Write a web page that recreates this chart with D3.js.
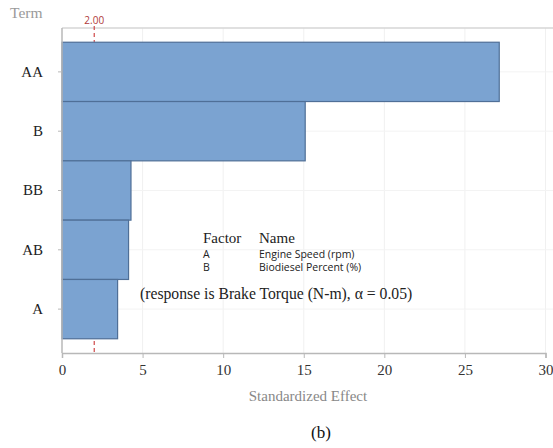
<!DOCTYPE html>
<html>
<head>
<meta charset="utf-8">
<script src="https://cdn.jsdelivr.net/npm/d3@7"></script>
<style>
  html, body { margin: 0; padding: 0; background: #fff; }
  svg { display: block; }
</style>
</head>
<body>
<svg id="chart" width="553" height="448"></svg>
<script>
// Pareto chart of standardized effects
const terms = ["AA", "B", "BB", "AB", "A"];
const effects = [27.13, 15.09, 4.28, 4.13, 3.45];
const xTicks = [0, 5, 10, 15, 20, 25, 30];
const refValue = 2.00;
const factorCodes = ["A", "B"];
const factorNames = ["Engine Speed (rpm)", "Biodiesel Percent (%)"];

(function draw() {
  const svg = d3.select("#chart");
  const plotL = 62, plotR = 545.5, plotT = 28, plotB = 353;
  const serif = "'Liberation Serif', 'Times New Roman', serif";
  const sans = "'Open Sans', 'DejaVu Sans', sans-serif";

  const x = d3.scaleLinear().domain([0, 30]).range([plotL, plotR]);
  const y = d3.scaleBand().domain(terms).range([plotT, plotB]).paddingInner(0).paddingOuter(0.24);

  // faint gridlines
  svg.append("g").selectAll("line").data(xTicks.slice(1)).join("line")
    .attr("x1", d => x(d)).attr("x2", d => x(d))
    .attr("y1", plotT).attr("y2", plotB)
    .attr("stroke", "#f0f0f0").attr("stroke-width", 1);
  svg.append("g").selectAll("line").data(terms).join("line")
    .attr("x1", plotL).attr("x2", 553)
    .attr("y1", d => y(d) + y.bandwidth() / 2).attr("y2", d => y(d) + y.bandwidth() / 2)
    .attr("stroke", "#f3f3f3").attr("stroke-width", 1);

  // top frame line
  svg.append("line").attr("x1", plotL).attr("x2", 553).attr("y1", plotT).attr("y2", plotT)
    .attr("stroke", "#d6d6d6").attr("stroke-width", 1.5);

  // reference line (sits behind the bars)
  svg.append("line")
    .attr("x1", x(refValue)).attr("x2", x(refValue))
    .attr("y1", plotT - 2).attr("y2", plotB)
    .attr("stroke", "#d04848").attr("stroke-width", 1.2)
    .attr("stroke-dasharray", "4,3");
  svg.append("text")
    .attr("x", x(refValue)).attr("y", plotT - 4)
    .attr("text-anchor", "middle")
    .attr("font-family", sans).attr("font-size", 10)
    .attr("fill", "#b03a3a")
    .text(refValue.toFixed(2));

  // bars
  svg.append("g").selectAll("rect").data(terms).join("rect")
    .attr("x", x(0))
    .attr("y", d => y(d))
    .attr("width", (d, i) => x(effects[i]) - x(0))
    .attr("height", y.bandwidth())
    .attr("fill", "#7ba3d1")
    .attr("stroke", "#4f6f97")
    .attr("stroke-width", 1.2);

  // x axis
  const xAxis = d3.axisBottom(x).tickValues(xTicks).tickSize(5).tickPadding(6);
  const gx = svg.append("g").attr("transform", `translate(0,${plotB})`).call(xAxis);
  gx.select(".domain").attr("stroke", "#b8b8b8").attr("stroke-width", 1.5);
  gx.selectAll(".tick line").attr("stroke", "#b8b8b8");
  gx.selectAll(".tick text").attr("font-family", serif).attr("font-size", 15).attr("fill", "#333");

  // y axis
  const yAxis = d3.axisLeft(y).tickSize(4).tickPadding(15);
  const gy = svg.append("g").attr("transform", `translate(${plotL},0)`).call(yAxis);
  gy.select(".domain").attr("stroke", "#b8b8b8").attr("stroke-width", 1.5)
    .attr("d", `M0,${plotT}V${plotB}`);
  gy.selectAll(".tick line").attr("stroke", "#b8b8b8");
  gy.selectAll(".tick text").attr("font-family", serif).attr("font-size", 15).attr("fill", "#222");

  // axis titles
  svg.append("text").attr("x", 10).attr("y", 18)
    .attr("font-family", serif).attr("font-size", 15.5).attr("fill", "#9a9a9a")
    .text("Term");
  svg.append("text").attr("x", 308).attr("y", 401)
    .attr("text-anchor", "middle")
    .attr("font-family", serif).attr("font-size", 15).attr("fill", "#888")
    .text("Standardized Effect");

  // factor key
  svg.append("text").attr("x", 203).attr("y", 243)
    .attr("font-family", serif).attr("font-size", 15).attr("fill", "#222").text("Factor");
  svg.append("text").attr("x", 259).attr("y", 243)
    .attr("font-family", serif).attr("font-size", 15).attr("fill", "#222").text("Name");
  const key = svg.append("g").selectAll("g").data(factorCodes).join("g");
  key.append("text").attr("x", 203).attr("y", (d, i) => 258 + i * 13)
    .attr("font-family", sans).attr("font-size", 10.5).attr("fill", "#222").text(d => d);
  key.append("text").attr("x", 259).attr("y", (d, i) => 258 + i * 13)
    .attr("font-family", sans).attr("font-size", 10.5).attr("fill", "#222").text((d, i) => factorNames[i]);
  svg.append("text").attr("x", 140).attr("y", 299)
    .attr("font-family", serif).attr("font-size", 15.7).attr("fill", "#222")
    .text("(response is Brake Torque (N-m), \u03b1 = 0.05)");

  // panel caption
  svg.append("text").attr("x", 321).attr("y", 438)
    .attr("text-anchor", "middle")
    .attr("font-family", serif).attr("font-size", 17).attr("fill", "#111")
    .text("(b)");
})();
</script>
</body>
</html>
